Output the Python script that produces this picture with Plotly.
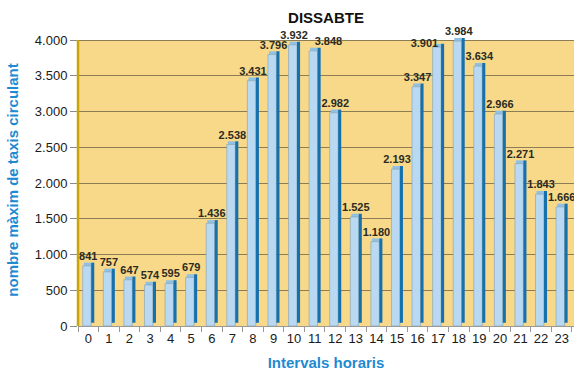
import plotly.graph_objects as go

# Hourly intervals (Saturday) and maximum number of taxis on the road
hours = [str(h) for h in range(24)]
taxis = [841, 757, 647, 574, 595, 679, 1436, 2538, 3431, 3796, 3932, 3848,
         2982, 1525, 1180, 2193, 3347, 3901, 3984, 3634, 2966, 2271, 1843, 1666]
y_ticks = [0, 500, 1000, 1500, 2000, 2500, 3000, 3500, 4000]
Y_MAX = 4000  # top of the coloured plotting panel

# pseudo-3D look: depth of the bar's top/side faces in data units
DEPTH = 45
FRONT = "#b9d9f3"
SIDE = "#1670ae"
CAP = "#8fc1e6"
PANEL = "#f8d98a"
AXIS_GOLD = "#c9a50a"

labels = [f"{v:,}".replace(",", ".") for v in taxis]
# neighbouring labels near the top are nudged sideways so they don't collide
label_pos = ["top center"] * len(taxis)
label_pos[11] = "top right"
label_pos[17] = "middle left"

fig = go.Figure()

# top cap of each bar
fig.add_trace(go.Bar(
    x=hours, y=[DEPTH] * len(taxis), base=taxis,
    offset=-0.22, width=0.36,
    marker=dict(color=CAP, line=dict(width=0)),
    hoverinfo="skip", cliponaxis=False,
))
# front face
fig.add_trace(go.Bar(
    x=hours, y=taxis,
    offset=-0.27, width=0.41,
    marker=dict(color=FRONT, line=dict(color="#7f9fb8", width=0.6)),
    cliponaxis=False,
))
# right side face
fig.add_trace(go.Bar(
    x=hours, y=taxis, base=[DEPTH] * len(taxis),
    offset=0.14, width=0.15,
    marker=dict(color=SIDE, line=dict(width=0)),
    hoverinfo="skip", cliponaxis=False,
))
# value labels
fig.add_trace(go.Scatter(
    x=hours, y=[v + DEPTH for v in taxis], mode="text",
    text=labels, textposition=label_pos,
    textfont=dict(family="Liberation Sans", size=11, color="#2b2b22", weight="bold"),
    cliponaxis=False, hoverinfo="skip",
))

# yellow panel up to 4.000 and the golden left axis line
fig.add_shape(type="rect", xref="paper", yref="y", x0=0, x1=1, y0=0, y1=Y_MAX,
              fillcolor=PANEL, line=dict(width=0), layer="below")
fig.add_shape(type="line", xref="paper", yref="y", x0=0, x1=0, y0=0, y1=Y_MAX,
              line=dict(color=AXIS_GOLD, width=2.5), layer="above")

fig.update_layout(
    width=574, height=377,
    margin=dict(l=78, r=0, t=34, b=51),
    paper_bgcolor="white",
    plot_bgcolor="white",
    barmode="overlay",
    showlegend=False,
    separators=",.",
    font=dict(family="Liberation Sans", color="#1a1a1a"),
    title=dict(
        text="DISSABTE", x=0.5, xanchor="center", xref="paper",
        y=0.952, yanchor="middle",
        font=dict(family="Liberation Sans", size=15, color="#111111", weight="bold"),
    ),
)

fig.update_xaxes(
    type="category", range=[-0.5, 23.6],
    tickson="boundaries", ticks="outside", ticklen=5, tickcolor="#999999",
    tickangle=0,
    showline=True, linecolor="#9a9a9a", linewidth=1,
    showgrid=False, zeroline=False,
    tickfont=dict(size=13, color="#1a1a1a"),
    title=dict(text="Intervals horaris", standoff=12,
               font=dict(size=15, color="#1e8ad2", weight="bold")),
)

fig.update_yaxes(
    range=[0, 4084], tickvals=y_ticks, tickformat=",d",
    ticks="outside", ticklen=7, tickcolor="#8a8a8a",
    showline=False,
    showgrid=True, gridcolor="#8c7d55", gridwidth=1,
    zeroline=False,
    tickfont=dict(size=13, color="#1a1a1a"),
    title=dict(text="nombre màxim de taxis circulant", standoff=12,
               font=dict(size=15, color="#1e8ad2", weight="bold")),
)

fig.write_html("out.html")
